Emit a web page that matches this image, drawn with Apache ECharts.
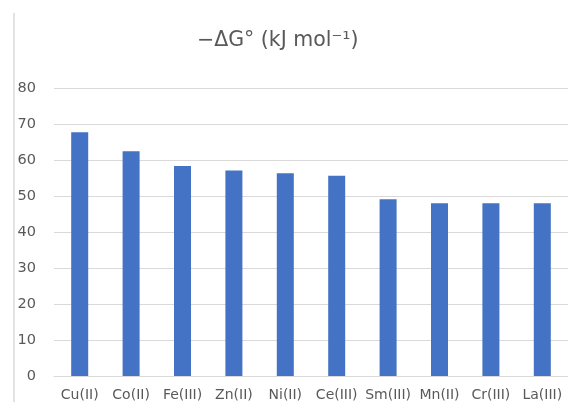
<!DOCTYPE html>
<html>
<head>
<meta charset="utf-8">
<script src="https://cdn.jsdelivr.net/npm/echarts@6/dist/echarts.min.js"></script>
<style>html,body{margin:0;padding:0;background:#fff;}#c{width:568px;height:402px;}</style>
</head>
<body>
<div id="c"></div>
<script>
var titleText = '\u2212\u0394G\u00b0 (kJ mol\u207b\u00b9)';
var categories = ['Cu(II)', 'Co(II)', 'Fe(III)', 'Zn(II)', 'Ni(II)', 'Ce(III)', 'Sm(III)', 'Mn(II)', 'Cr(III)', 'La(III)'];
var values = [67.7, 62.4, 58.3, 57.1, 56.3, 55.6, 49.1, 48.0, 48.0, 48.0];
var yTicks = [0, 10, 20, 30, 40, 50, 60, 70, 80];

var chart = echarts.init(document.getElementById('c'), null, {renderer: 'canvas'});
chart.setOption({
  backgroundColor: '#ffffff',
  animation: false,
  title: {
    text: titleText,
    left: 192,
    top: 25,
    textStyle: {fontFamily: 'DejaVu Sans', fontSize: 20.5, fontWeight: 'normal', color: '#595959'}
  },
  graphic: [{
    type: 'line',
    shape: {x1: 14, y1: 13, x2: 14, y2: 402},
    style: {stroke: '#d9d9d9', lineWidth: 1.5}
  }],
  grid: {left: 54, right: -2, top: 88, bottom: 26, containLabel: false},
  xAxis: {
    type: 'category',
    data: categories,
    axisLine: {show: true, lineStyle: {color: '#d9d9d9', width: 1}},
    axisTick: {show: false},
    axisLabel: {margin: 12, fontFamily: 'DejaVu Sans', fontSize: 14, color: '#595959', interval: 0}
  },
  yAxis: {
    type: 'value',
    min: yTicks[0],
    max: yTicks[yTicks.length - 1],
    interval: 10,
    axisLine: {show: false},
    axisTick: {show: false},
    axisLabel: {margin: 18, fontFamily: 'DejaVu Sans', fontSize: 14.5, color: '#595959'},
    splitLine: {lineStyle: {color: '#d9d9d9', width: 1}}
  },
  series: [{
    type: 'bar',
    data: values,
    barWidth: 17,
    itemStyle: {color: '#4472c4'}
  }]
});
</script>
</body>
</html>
